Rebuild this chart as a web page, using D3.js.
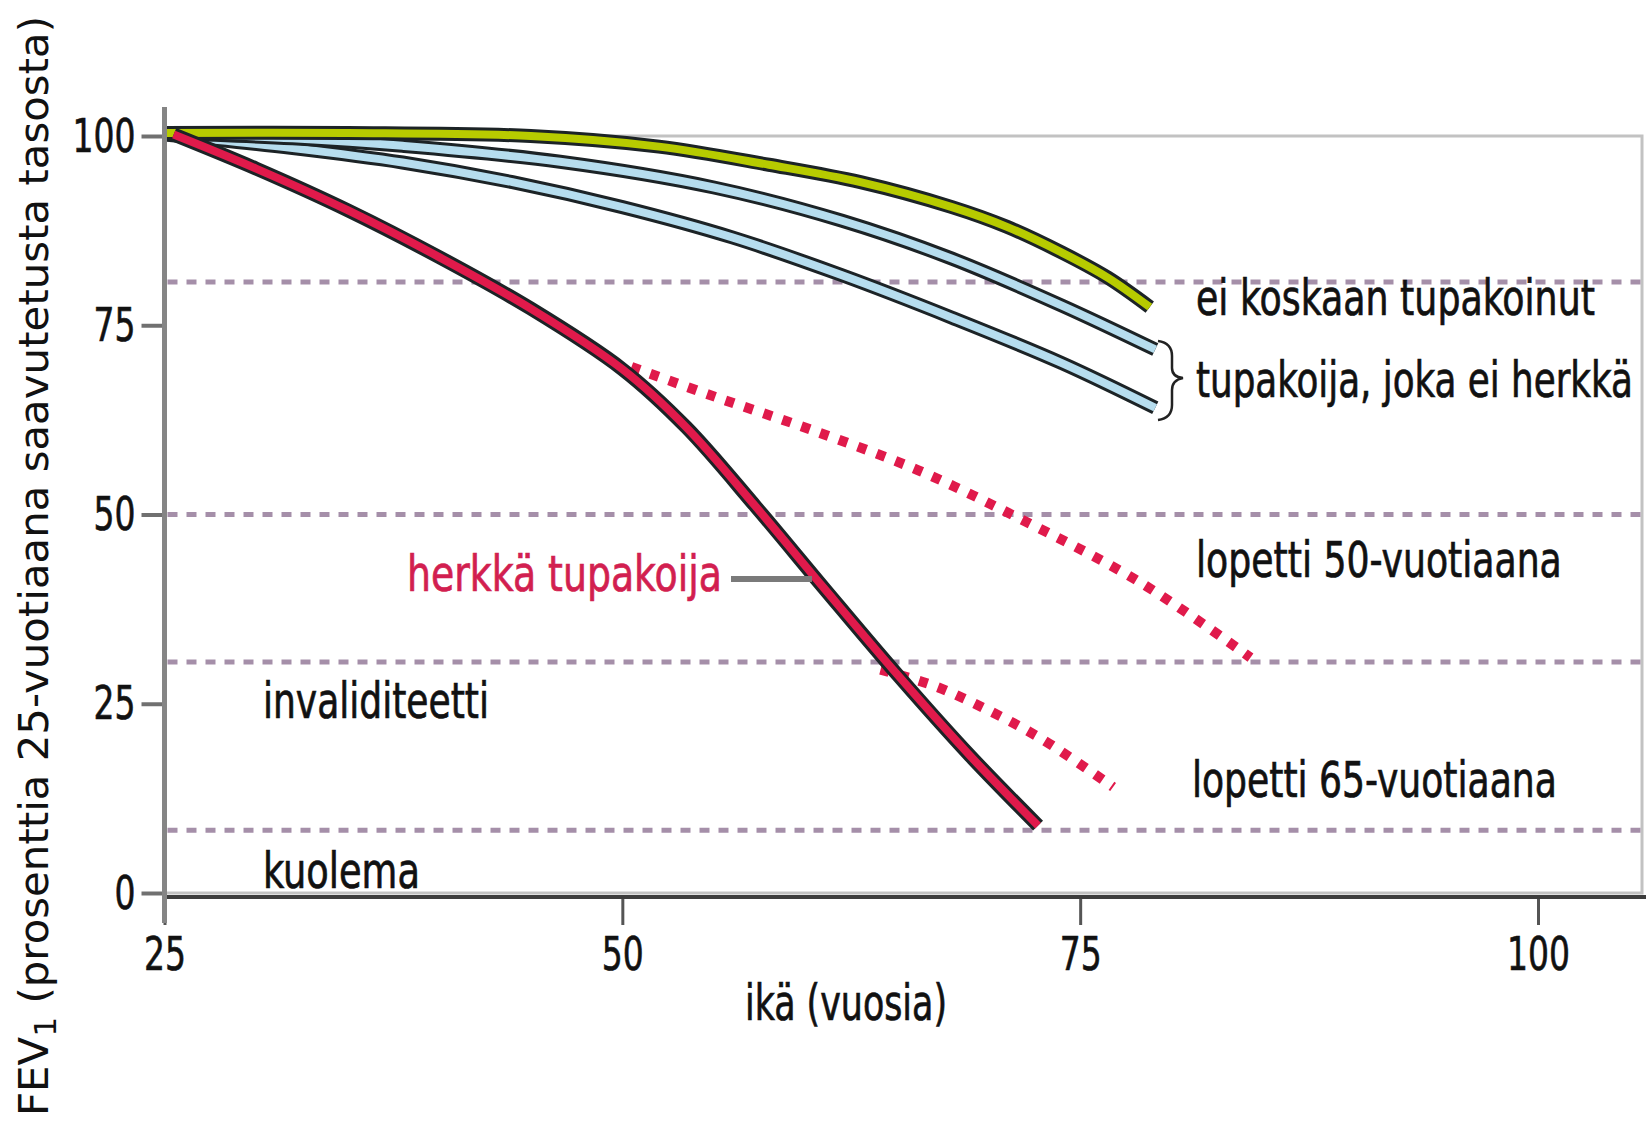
<!DOCTYPE html>
<html>
<head>
<meta charset="utf-8">
<script src="https://cdn.jsdelivr.net/npm/d3@7"></script>
<style>
  body { margin: 0; background: #fff; }
</style>
</head>
<body>
<script>
// ---- data ----
const X_TICKS = [25, 50, 75, 100];
const Y_TICKS = [0, 25, 50, 75, 100];
const LIMITS = [80.7, 50, 30.5, 8.3];   // dotted threshold lines

const AGE_NEVER = [25, 35, 45, 52, 58, 63, 68, 71, 74, 76.5, 78.8];
const FEV_NEVER = [100.4, 100.4, 100, 98.6, 96.2, 93.9, 90.6, 88, 84.6, 81.3, 77.4];

const AGE_SMOKER_A = [25, 32, 38, 46.6, 55, 62, 68, 74, 79.1];
const FEV_SMOKER_A = [100.4, 99.7, 98.7, 96.6, 93.2, 88.8, 83.8, 77.6, 71.8];

const AGE_SMOKER_B = [25, 32, 38, 44, 50, 56, 62, 68, 74, 79.1];
const FEV_SMOKER_B = [100.2, 98.4, 96.5, 93.9, 90.6, 86.6, 81.6, 76, 70, 64.1];

const AGE_SENSITIVE = [25.5, 30, 35, 40, 45, 50, 53.5, 57.3, 61, 65, 69, 72.7];
const FEV_SENSITIVE = [100.2, 95.7, 90.2, 84, 77.2, 69.2, 61.5, 51, 40.3, 28.9, 18.1, 8.9];

const AGE_QUIT50 = [50.5, 55, 60.3, 66.1, 71.5, 78.3, 84.3];
const FEV_QUIT50 = [69.5, 65.6, 61.2, 55.9, 49.7, 41, 31.1];

const AGE_QUIT65 = [64.1, 67.1, 70.1, 73, 76.8];
const FEV_QUIT65 = [29.5, 27.3, 24, 20.2, 14];

// ---- frame ----
const FRAME_WIDTH = 1646;
const FRAME_HEIGHT = 1121;
const NARROW = "'Liberation Sans Narrow', 'DejaVu Sans Condensed', 'Liberation Sans', sans-serif";

const OUTLINE = "#1c2326";
const RED = "#e01a4b";
const PURPLE = "#a58fa9";

const FRAME = d3.select("body")
  .append("svg")
    .attr("width", FRAME_WIDTH)
    .attr("height", FRAME_HEIGHT);

const x = d3.scaleLinear().domain([25, 100]).range([164.5, 1538]);
const y = d3.scaleLinear().domain([0, 100]).range([893, 136]);

// squeeze a text horizontally around its anchor so it is `width` wide
function fitWidth(node, width) {
  const w = node.getComputedTextLength();
  const s = width / w;
  const ax = +node.getAttribute("x") || 0;
  node.setAttribute("transform", "translate(" + (ax * (1 - s)) + ",0) scale(" + s + ",1)");
}

// plot box
FRAME.append("rect")
  .attr("x", x(25))
  .attr("y", y(100))
  .attr("width", 1642 - x(25))
  .attr("height", y(0) - y(100))
  .attr("fill", "none")
  .attr("stroke", "#c2c2c2")
  .attr("stroke-width", 3);

// dotted threshold lines
FRAME.selectAll(".limit")
  .data(LIMITS)
  .enter()
  .append("line")
    .attr("class", "limit")
    .attr("x1", x(25) + 3)
    .attr("x2", 1641)
    .attr("y1", d => y(d))
    .attr("y2", d => y(d))
    .attr("stroke", PURPLE)
    .attr("stroke-width", 5)
    .attr("stroke-dasharray", "10,9");

const line = d3.line()
  .x(d => x(d[0]))
  .y(d => y(d[1]))
  .curve(d3.curveCatmullRom.alpha(0.5));

function toPoints(ages, vals) {
  return ages.map((a, i) => [a, vals[i]]);
}

// solid curve with dark edge
function drawOutlined(ages, vals, color) {
  const pts = toPoints(ages, vals);
  FRAME.append("path")
    .datum(pts)
    .attr("d", line)
    .attr("fill", "none")
    .attr("stroke", OUTLINE)
    .attr("stroke-width", 14);
  FRAME.append("path")
    .datum(pts)
    .attr("d", line)
    .attr("fill", "none")
    .attr("stroke", color)
    .attr("stroke-width", 8);
}

function drawDotted(ages, vals) {
  FRAME.append("path")
    .datum(toPoints(ages, vals))
    .attr("d", line)
    .attr("fill", "none")
    .attr("stroke", RED)
    .attr("stroke-width", 10)
    .attr("stroke-dasharray", "9,11");
}

drawDotted(AGE_QUIT50, FEV_QUIT50);
drawDotted(AGE_QUIT65, FEV_QUIT65);
drawOutlined(AGE_SMOKER_B, FEV_SMOKER_B, "#b6ddee");
drawOutlined(AGE_SMOKER_A, FEV_SMOKER_A, "#b6ddee");
drawOutlined(AGE_NEVER, FEV_NEVER, "#b7cb00");
drawOutlined(AGE_SENSITIVE, FEV_SENSITIVE, RED);

// ---- axes ----
const yAxis = FRAME.append("g")
  .attr("transform", "translate(" + x(25) + ",0)")
  .call(d3.axisLeft(y).tickValues(Y_TICKS).tickSize(23).tickPadding(6));
yAxis.select(".domain").remove();
yAxis.selectAll("line").attr("stroke", "#707070").attr("stroke-width", 4);

const xAxis = FRAME.append("g")
  .attr("transform", "translate(0," + (y(0) + 4) + ")")
  .call(d3.axisBottom(x).tickValues(X_TICKS).tickSize(28).tickPadding(12));
xAxis.select(".domain").remove();
xAxis.selectAll("line").attr("stroke", "#555").attr("stroke-width", 3);

FRAME.selectAll(".tick text")
  .attr("font-family", NARROW)
  .attr("font-size", 47)
  .attr("fill", "#111")
  .attr("stroke", "#111")
  .attr("stroke-width", 0.6)
  .each(function(d) { fitWidth(this, String(d).length * 21); });

// axis lines
FRAME.append("line")
  .attr("x1", x(25)).attr("x2", FRAME_WIDTH)
  .attr("y1", y(0) + 4).attr("y2", y(0) + 4)
  .attr("stroke", "#3d3d3d")
  .attr("stroke-width", 4);

FRAME.append("line")
  .attr("x1", x(25)).attr("x2", x(25))
  .attr("y1", y(100) - 29).attr("y2", y(0) + 30)
  .attr("stroke", "#858585")
  .attr("stroke-width", 5);

// ---- text ----
function label(txt, px, py, width, color) {
  const t = FRAME.append("text")
    .attr("x", px)
    .attr("y", py)
    .attr("font-family", NARROW)
    .attr("font-size", 50)
    .attr("fill", color || "#111")
    .attr("stroke", color || "#111")
    .attr("stroke-width", 0.7)
    .text(txt);
  fitWidth(t.node(), width);
}

label("ei koskaan tupakoinut", 1196, 315, 399);
label("tupakoija, joka ei herkkä", 1196, 397, 437);
label("lopetti 50-vuotiaana", 1196, 577, 366);
label("lopetti 65-vuotiaana", 1192, 797, 365);
label("herkkä tupakoija", 407, 591, 315, "#d21f50");
label("invaliditeetti", 263, 718, 226);
label("kuolema", 263, 888, 157);
label("ikä (vuosia)", 745, 1020, 202);

// pointer from red label to the curve
FRAME.append("line")
  .attr("x1", 731).attr("x2", 812)
  .attr("y1", 579).attr("y2", 579)
  .attr("stroke", "#7a7a7a")
  .attr("stroke-width", 6);

// brace for the two non-sensitive smokers
FRAME.append("path")
  .attr("d", "M1158,341 Q1172,343 1172,356 L1172,368 Q1172,377 1183,378 Q1172,380 1172,390 L1172,405 Q1172,418 1158,420")
  .attr("fill", "none")
  .attr("stroke", "#222")
  .attr("stroke-width", 2.5);

// rotated y title with subscript
const yTitle = FRAME.append("text")
  .attr("transform", "translate(48,1116) rotate(-90)")
  .attr("font-family", "'DejaVu Sans', sans-serif")
  .attr("font-size", 40)
  .attr("fill", "#111")
  .attr("textLength", 1100)
  .attr("lengthAdjust", "spacingAndGlyphs");
yTitle.append("tspan").text("FEV");
yTitle.append("tspan").attr("font-size", 30).attr("dy", 8).text("1");
yTitle.append("tspan").attr("dy", -8).text(" (prosenttia 25-vuotiaana saavutetusta tasosta)");
</script>
</body>
</html>
